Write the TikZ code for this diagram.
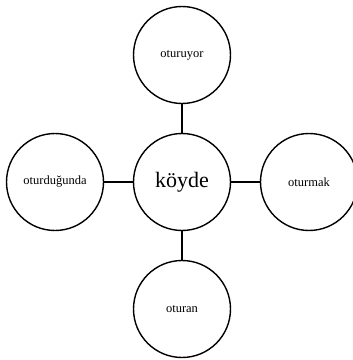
\documentclass[tikz,border=0pt]{standalone}
\usepackage{fontspec}
\setmainfont{Liberation Serif}
\begin{document}
\begin{tikzpicture}[x=1pt,y=1pt,
  word/.style={draw,circle,line width=1.4pt,minimum size=97pt,inner sep=0pt,
    font=\fontsize{12.5}{14}\selectfont}]
  \useasboundingbox (0,0) rectangle (353,360);
  \def\dd{127}   % spoke length
  \node[word,font=\fontsize{22}{25}\selectfont] (koy) at (182,178) {köyde};
  \node[word] (ust) at (182,178+\dd) {oturuyor};
  \node[word] (alt) at (182,178-\dd) {oturan};
  \node[word] (sol) at (182-\dd,178) {oturduğunda};
  \node[word] (sag) at (182+\dd,178) {oturmak};
  \foreach \n in {ust,alt,sol,sag} { \draw[line width=1.4pt] (koy) -- (\n); }
\end{tikzpicture}
\end{document}
